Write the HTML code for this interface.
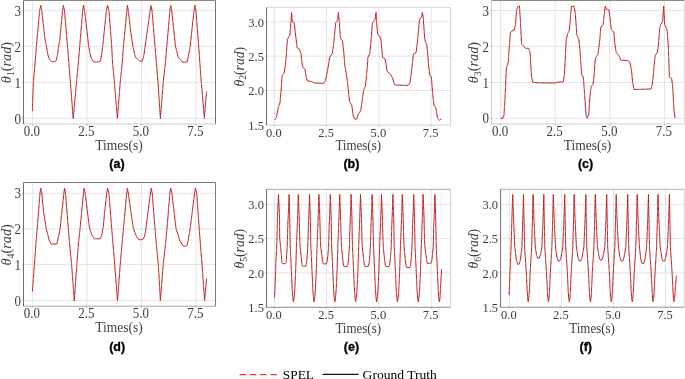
<!DOCTYPE html>
<html><head><meta charset="utf-8"><title>Joint angle trajectories</title>
<style>
html,body{margin:0;padding:0;background:#fff;}
body{width:685px;height:379px;overflow:hidden;}
svg{display:block;will-change:transform;}
.tk{font-family:"Liberation Serif",serif;fill:#3c3c3c;}
.lab{font-family:"Liberation Serif",serif;fill:#404040;}
.cap{font-family:"Liberation Sans",sans-serif;font-weight:bold;fill:#000;stroke:#000;stroke-width:0.3;}
.leg{font-family:"Liberation Serif",serif;fill:#000;}
.grid{stroke:#dddddd;stroke-width:0.8;}
.gt{fill:none;stroke:#160808;stroke-width:0.9;stroke-dasharray:0.9 1.45;stroke-dashoffset:0.9;stroke-linejoin:miter;stroke-miterlimit:6;}
.sp{fill:none;stroke:#fa1414;stroke-width:1.0;stroke-dasharray:1.45 0.9;stroke-linejoin:miter;stroke-miterlimit:6;}
</style></head><body>
<svg width="685" height="379" viewBox="0 0 685 379">
<rect width="685" height="379" fill="#fff"/>
<g id="plot-a">
<line class="grid" x1="32.4" y1="0.5" x2="32.4" y2="124.0"/>
<line class="grid" x1="86.9" y1="0.5" x2="86.9" y2="124.0"/>
<line class="grid" x1="141.4" y1="0.5" x2="141.4" y2="124.0"/>
<line class="grid" x1="195.9" y1="0.5" x2="195.9" y2="124.0"/>
<line class="grid" x1="23.5" y1="118.4" x2="215.5" y2="118.4"/>
<line class="grid" x1="23.5" y1="82.4" x2="215.5" y2="82.4"/>
<line class="grid" x1="23.5" y1="46.4" x2="215.5" y2="46.4"/>
<line class="grid" x1="23.5" y1="10.4" x2="215.5" y2="10.4"/>
<path class="gt" d="M32.4,111.1 L33.4,82.5 L35.1,62.0 L36.4,46.4 L39.6,10.5 L40.8,5.3 L41.8,10.5 L45.1,40.0 L46.4,46.4 L47.9,54.8 L49.4,59.2 L51.5,61.2 L53.5,61.8 L55.5,61.2 L56.4,59.9 L57.5,54.8 L58.7,46.4 L59.8,40.0 L62.6,10.5 L63.4,5.3 L64.5,10.5 L67.5,46.4 L68.8,62.0 L70.4,82.5 L73.2,118.4 L76.5,82.5 L78.4,62.0 L79.7,46.4 L82.7,10.5 L83.5,5.3 L84.6,10.5 L88.7,46.4 L90.5,56.0 L92.8,61.0 L95.0,62.0 L98.0,62.0 L100.5,61.0 L101.5,55.0 L102.7,46.4 L106.4,10.5 L107.6,5.3 L108.9,10.5 L111.7,46.4 L112.5,62.0 L114.4,82.5 L117.4,118.4 L120.2,82.5 L122.3,62.0 L123.4,46.4 L126.9,10.5 L127.4,5.3 L128.3,10.5 L130.5,30.0 L132.9,46.4 L135.4,57.3 L139.5,60.6 L141.6,62.0 L143.5,57.3 L145.2,46.4 L150.1,10.5 L150.9,5.5 L152.0,10.5 L155.0,46.4 L156.3,62.0 L158.0,82.5 L160.4,118.4 L163.2,82.5 L165.5,62.0 L166.8,46.4 L169.9,10.5 L170.6,5.3 L171.7,10.5 L175.5,46.4 L178.4,57.3 L182.0,62.0 L184.5,62.3 L187.0,62.0 L188.2,57.3 L190.2,46.4 L194.0,10.5 L194.8,5.3 L195.9,10.5 L198.7,46.4 L199.8,62.0 L201.3,82.5 L204.4,118.4 L205.3,105.0 L206.6,91.5"/>
<path class="sp" d="M32.4,111.1 L33.4,82.5 L35.1,62.0 L36.4,46.4 L39.6,10.5 L40.8,5.3 L41.8,10.5 L45.1,40.0 L46.4,46.4 L47.9,54.8 L49.4,59.2 L51.5,61.2 L53.5,61.8 L55.5,61.2 L56.4,59.9 L57.5,54.8 L58.7,46.4 L59.8,40.0 L62.6,10.5 L63.4,5.3 L64.5,10.5 L67.5,46.4 L68.8,62.0 L70.4,82.5 L73.2,118.4 L76.5,82.5 L78.4,62.0 L79.7,46.4 L82.7,10.5 L83.5,5.3 L84.6,10.5 L88.7,46.4 L90.5,56.0 L92.8,61.0 L95.0,62.0 L98.0,62.0 L100.5,61.0 L101.5,55.0 L102.7,46.4 L106.4,10.5 L107.6,5.3 L108.9,10.5 L111.7,46.4 L112.5,62.0 L114.4,82.5 L117.4,118.4 L120.2,82.5 L122.3,62.0 L123.4,46.4 L126.9,10.5 L127.4,5.3 L128.3,10.5 L130.5,30.0 L132.9,46.4 L135.4,57.3 L139.5,60.6 L141.6,62.0 L143.5,57.3 L145.2,46.4 L150.1,10.5 L150.9,5.5 L152.0,10.5 L155.0,46.4 L156.3,62.0 L158.0,82.5 L160.4,118.4 L163.2,82.5 L165.5,62.0 L166.8,46.4 L169.9,10.5 L170.6,5.3 L171.7,10.5 L175.5,46.4 L178.4,57.3 L182.0,62.0 L184.5,62.3 L187.0,62.0 L188.2,57.3 L190.2,46.4 L194.0,10.5 L194.8,5.3 L195.9,10.5 L198.7,46.4 L199.8,62.0 L201.3,82.5 L204.4,118.4 L205.3,105.0 L206.6,91.5"/>
<line x1="23.5" y1="0.5" x2="215.5" y2="0.5" stroke="#8a8a8a" stroke-width="1"/>
<line x1="215.5" y1="0.5" x2="215.5" y2="124.0" stroke="#707070" stroke-width="1"/>
<line x1="23.5" y1="124.0" x2="215.5" y2="124.0" stroke="#cccccc" stroke-width="1"/>
<line x1="23.5" y1="0.5" x2="23.5" y2="124.0" stroke="#6e6e6e" stroke-width="1"/>
<line x1="32.4" y1="124.0" x2="32.4" y2="125.4" stroke="#8a8a8a" stroke-width="0.6"/>
<line x1="86.9" y1="124.0" x2="86.9" y2="125.4" stroke="#8a8a8a" stroke-width="0.6"/>
<line x1="141.4" y1="124.0" x2="141.4" y2="125.4" stroke="#8a8a8a" stroke-width="0.6"/>
<line x1="195.9" y1="124.0" x2="195.9" y2="125.4" stroke="#8a8a8a" stroke-width="0.6"/>
<line x1="22.1" y1="118.4" x2="23.5" y2="118.4" stroke="#8a8a8a" stroke-width="0.6"/>
<line x1="22.1" y1="82.4" x2="23.5" y2="82.4" stroke="#8a8a8a" stroke-width="0.6"/>
<line x1="22.1" y1="46.4" x2="23.5" y2="46.4" stroke="#8a8a8a" stroke-width="0.6"/>
<line x1="22.1" y1="10.4" x2="23.5" y2="10.4" stroke="#8a8a8a" stroke-width="0.6"/>
<text class="tk" transform="translate(31.9,136.2) scale(0.915,1)" font-size="14.2" text-anchor="middle">0.0</text>
<text class="tk" transform="translate(86.4,136.2) scale(0.915,1)" font-size="14.2" text-anchor="middle">2.5</text>
<text class="tk" transform="translate(140.9,136.2) scale(0.915,1)" font-size="14.2" text-anchor="middle">5.0</text>
<text class="tk" transform="translate(195.4,136.2) scale(0.915,1)" font-size="14.2" text-anchor="middle">7.5</text>
<text class="tk" transform="translate(20.9,123.5) scale(0.915,1)" font-size="14.2" text-anchor="end">0</text>
<text class="tk" transform="translate(20.9,87.5) scale(0.915,1)" font-size="14.2" text-anchor="end">1</text>
<text class="tk" transform="translate(20.9,51.5) scale(0.915,1)" font-size="14.2" text-anchor="end">2</text>
<text class="tk" transform="translate(20.9,15.5) scale(0.915,1)" font-size="14.2" text-anchor="end">3</text>
<text class="lab" transform="translate(119.1,149.9) scale(0.966,1)" font-size="14" text-anchor="middle">Times(s)</text>
<text class="lab" transform="translate(10.9,62.6) rotate(-90) scale(1.020,1)" font-size="14" text-anchor="middle"><tspan font-style="italic">θ</tspan><tspan font-size="9.8" dy="2.8">1</tspan><tspan dy="-2.8">(</tspan><tspan font-style="italic">rad</tspan>)</text>
<text class="cap" x="117" y="168.3" font-size="12.5" text-anchor="middle">(a)</text>
</g>
<g id="plot-b">
<line class="grid" x1="274.4" y1="7.4" x2="274.4" y2="125.1"/>
<line class="grid" x1="326.6" y1="7.4" x2="326.6" y2="125.1"/>
<line class="grid" x1="378.9" y1="7.4" x2="378.9" y2="125.1"/>
<line class="grid" x1="431.1" y1="7.4" x2="431.1" y2="125.1"/>
<line class="grid" x1="266.5" y1="90.5" x2="450.6" y2="90.5"/>
<line class="grid" x1="266.5" y1="56.2" x2="450.6" y2="56.2"/>
<line class="grid" x1="266.5" y1="21.9" x2="450.6" y2="21.9"/>
<path class="gt" d="M274.6,119.8 L276.4,117.4 L278.4,106.7 L280.0,102.6 L281.1,90.4 L282.1,75.6 L284.1,73.2 L285.4,65.3 L286.2,56.2 L287.4,39.4 L289.8,35.3 L291.1,21.4 L291.5,12.4 L292.3,21.4 L294.2,22.7 L295.9,37.7 L297.2,47.9 L299.6,49.2 L301.0,54.1 L302.4,66.0 L302.9,67.5 L304.9,69.1 L306.2,77.3 L307.5,80.9 L311.1,81.4 L314.4,83.0 L323.4,83.3 L325.5,80.5 L327.1,72.4 L328.3,66.0 L329.6,57.4 L332.4,53.3 L334.0,41.0 L335.6,23.0 L337.6,20.1 L338.4,12.4 L339.3,21.4 L340.2,36.1 L341.0,39.4 L342.5,40.7 L343.8,52.5 L344.9,66.0 L346.8,76.5 L348.4,90.4 L349.6,101.8 L351.7,105.1 L353.3,115.7 L354.5,118.7 L356.6,119.3 L358.2,114.1 L360.7,110.8 L362.2,100.2 L363.8,89.5 L365.4,86.3 L366.7,73.2 L367.4,66.0 L367.9,57.4 L369.9,53.3 L371.2,37.7 L372.5,23.0 L375.0,19.7 L376.1,12.4 L376.4,20.5 L377.7,34.5 L379.7,36.1 L381.0,40.2 L382.6,57.4 L385.1,59.0 L386.3,66.0 L387.2,71.5 L390.8,74.5 L392.8,78.9 L394.6,85.0 L408.0,85.5 L410.1,82.2 L411.3,73.2 L412.1,66.0 L413.4,54.1 L416.2,52.5 L417.8,37.7 L419.5,19.7 L421.6,16.5 L422.4,12.4 L423.2,17.3 L424.4,34.5 L425.2,41.8 L426.8,44.3 L428.0,57.4 L428.7,66.0 L429.8,74.8 L431.4,77.3 L432.6,92.8 L433.9,105.1 L435.8,107.6 L437.5,118.2 L439.6,120.2 L441.6,118.7"/>
<path class="sp" d="M274.6,119.8 L276.4,117.4 L278.4,106.7 L280.0,102.6 L281.1,90.4 L282.1,75.6 L284.1,73.2 L285.4,65.3 L286.2,56.2 L287.4,39.4 L289.8,35.3 L291.1,21.4 L291.5,12.4 L292.3,21.4 L294.2,22.7 L295.9,37.7 L297.2,47.9 L299.6,49.2 L301.0,54.1 L302.4,66.0 L302.9,67.5 L304.9,69.1 L306.2,77.3 L307.5,80.9 L311.1,81.4 L314.4,83.0 L323.4,83.3 L325.5,80.5 L327.1,72.4 L328.3,66.0 L329.6,57.4 L332.4,53.3 L334.0,41.0 L335.6,23.0 L337.6,20.1 L338.4,12.4 L339.3,21.4 L340.2,36.1 L341.0,39.4 L342.5,40.7 L343.8,52.5 L344.9,66.0 L346.8,76.5 L348.4,90.4 L349.6,101.8 L351.7,105.1 L353.3,115.7 L354.5,118.7 L356.6,119.3 L358.2,114.1 L360.7,110.8 L362.2,100.2 L363.8,89.5 L365.4,86.3 L366.7,73.2 L367.4,66.0 L367.9,57.4 L369.9,53.3 L371.2,37.7 L372.5,23.0 L375.0,19.7 L376.1,12.4 L376.4,20.5 L377.7,34.5 L379.7,36.1 L381.0,40.2 L382.6,57.4 L385.1,59.0 L386.3,66.0 L387.2,71.5 L390.8,74.5 L392.8,78.9 L394.6,85.0 L408.0,85.5 L410.1,82.2 L411.3,73.2 L412.1,66.0 L413.4,54.1 L416.2,52.5 L417.8,37.7 L419.5,19.7 L421.6,16.5 L422.4,12.4 L423.2,17.3 L424.4,34.5 L425.2,41.8 L426.8,44.3 L428.0,57.4 L428.7,66.0 L429.8,74.8 L431.4,77.3 L432.6,92.8 L433.9,105.1 L435.8,107.6 L437.5,118.2 L439.6,120.2 L441.6,118.7"/>
<line x1="266.5" y1="7.4" x2="450.6" y2="7.4" stroke="#d8d8d8" stroke-width="1"/>
<line x1="450.6" y1="7.4" x2="450.6" y2="125.1" stroke="#d0d0d0" stroke-width="1"/>
<line x1="266.5" y1="125.1" x2="450.6" y2="125.1" stroke="#cfcfcf" stroke-width="1"/>
<line x1="266.5" y1="7.4" x2="266.5" y2="125.1" stroke="#6e6e6e" stroke-width="1"/>
<line x1="274.4" y1="125.1" x2="274.4" y2="126.5" stroke="#8a8a8a" stroke-width="0.6"/>
<line x1="326.6" y1="125.1" x2="326.6" y2="126.5" stroke="#8a8a8a" stroke-width="0.6"/>
<line x1="378.9" y1="125.1" x2="378.9" y2="126.5" stroke="#8a8a8a" stroke-width="0.6"/>
<line x1="431.1" y1="125.1" x2="431.1" y2="126.5" stroke="#8a8a8a" stroke-width="0.6"/>
<line x1="265.1" y1="124.8" x2="266.5" y2="124.8" stroke="#8a8a8a" stroke-width="0.6"/>
<line x1="265.1" y1="90.5" x2="266.5" y2="90.5" stroke="#8a8a8a" stroke-width="0.6"/>
<line x1="265.1" y1="56.2" x2="266.5" y2="56.2" stroke="#8a8a8a" stroke-width="0.6"/>
<line x1="265.1" y1="21.9" x2="266.5" y2="21.9" stroke="#8a8a8a" stroke-width="0.6"/>
<text class="tk" transform="translate(273.9,136.8) scale(0.924,1)" font-size="13.5" text-anchor="middle">0.0</text>
<text class="tk" transform="translate(326.1,136.8) scale(0.924,1)" font-size="13.5" text-anchor="middle">2.5</text>
<text class="tk" transform="translate(378.4,136.8) scale(0.924,1)" font-size="13.5" text-anchor="middle">5.0</text>
<text class="tk" transform="translate(430.6,136.8) scale(0.924,1)" font-size="13.5" text-anchor="middle">7.5</text>
<text class="tk" transform="translate(263.9,129.7) scale(0.924,1)" font-size="13.5" text-anchor="end">1.5</text>
<text class="tk" transform="translate(263.9,95.3) scale(0.924,1)" font-size="13.5" text-anchor="end">2.0</text>
<text class="tk" transform="translate(263.9,61.1) scale(0.924,1)" font-size="13.5" text-anchor="end">2.5</text>
<text class="tk" transform="translate(263.9,26.8) scale(0.924,1)" font-size="13.5" text-anchor="end">3.0</text>
<text class="lab" transform="translate(358.2,149.9) scale(0.927,1)" font-size="14" text-anchor="middle">Times(s)</text>
<text class="lab" transform="translate(243.5,66.7) rotate(-90) scale(0.979,1)" font-size="14" text-anchor="middle"><tspan font-style="italic">θ</tspan><tspan font-size="9.8" dy="2.8">2</tspan><tspan dy="-2.8">(</tspan><tspan font-style="italic">rad</tspan>)</text>
<text class="cap" x="351.4" y="168.3" font-size="12.5" text-anchor="middle">(b)</text>
</g>
<g id="plot-c">
<line class="grid" x1="500.6" y1="0.5" x2="500.6" y2="124.0"/>
<line class="grid" x1="555.2" y1="0.5" x2="555.2" y2="124.0"/>
<line class="grid" x1="609.8" y1="0.5" x2="609.8" y2="124.0"/>
<line class="grid" x1="664.4" y1="0.5" x2="664.4" y2="124.0"/>
<line class="grid" x1="491.6" y1="118.3" x2="684.3" y2="118.3"/>
<line class="grid" x1="491.6" y1="82.5" x2="684.3" y2="82.5"/>
<line class="grid" x1="491.6" y1="46.4" x2="684.3" y2="46.4"/>
<line class="grid" x1="491.6" y1="10.5" x2="684.3" y2="10.5"/>
<path class="gt" d="M500.6,118.3 L502.7,118.3 L504.0,115.2 L505.2,94.7 L506.3,68.5 L508.3,62.0 L509.3,46.3 L510.4,32.7 L511.7,31.1 L513.9,30.3 L515.5,24.5 L516.6,9.8 L518.0,6.5 L519.4,5.9 L520.4,20.5 L521.6,44.2 L523.2,45.8 L525.3,48.3 L528.6,48.3 L530.1,52.4 L530.6,62.0 L531.4,75.1 L532.5,82.1 L537.1,82.8 L555.1,83.0 L558.4,82.0 L563.3,82.0 L564.4,75.1 L565.1,62.0 L566.2,39.3 L567.7,33.6 L569.3,30.3 L570.7,14.7 L571.5,6.2 L573.9,6.2 L575.2,12.3 L576.9,35.2 L578.8,39.3 L580.0,50.7 L580.8,62.0 L581.6,74.3 L583.4,77.5 L584.6,94.7 L586.2,116.0 L587.3,118.1 L588.7,114.4 L589.8,98.0 L591.1,86.5 L593.1,84.1 L594.4,71.8 L595.1,62.0 L595.8,57.3 L597.9,54.8 L599.5,42.6 L600.9,27.0 L603.2,24.5 L604.5,11.5 L605.3,6.2 L606.1,9.0 L608.9,9.8 L610.2,19.6 L611.3,29.5 L613.8,31.9 L615.1,45.8 L616.2,52.4 L618.9,55.6 L620.8,60.2 L627.4,60.6 L629.8,62.0 L631.5,70.2 L632.6,81.6 L633.9,89.5 L651.1,89.0 L652.4,83.3 L653.6,71.8 L654.4,62.0 L655.2,55.6 L657.3,52.4 L658.5,44.2 L659.8,27.0 L660.9,24.5 L662.6,21.3 L663.7,6.2 L664.7,24.5 L667.0,29.5 L668.3,45.8 L668.9,62.0 L669.4,76.7 L671.6,78.4 L672.7,86.5 L674.0,111.1 L675.2,118.1"/>
<path class="sp" d="M500.6,118.3 L502.7,118.3 L504.0,115.2 L505.2,94.7 L506.3,68.5 L508.3,62.0 L509.3,46.3 L510.4,32.7 L511.7,31.1 L513.9,30.3 L515.5,24.5 L516.6,9.8 L518.0,6.5 L519.4,5.9 L520.4,20.5 L521.6,44.2 L523.2,45.8 L525.3,48.3 L528.6,48.3 L530.1,52.4 L530.6,62.0 L531.4,75.1 L532.5,82.1 L537.1,82.8 L555.1,83.0 L558.4,82.0 L563.3,82.0 L564.4,75.1 L565.1,62.0 L566.2,39.3 L567.7,33.6 L569.3,30.3 L570.7,14.7 L571.5,6.2 L573.9,6.2 L575.2,12.3 L576.9,35.2 L578.8,39.3 L580.0,50.7 L580.8,62.0 L581.6,74.3 L583.4,77.5 L584.6,94.7 L586.2,116.0 L587.3,118.1 L588.7,114.4 L589.8,98.0 L591.1,86.5 L593.1,84.1 L594.4,71.8 L595.1,62.0 L595.8,57.3 L597.9,54.8 L599.5,42.6 L600.9,27.0 L603.2,24.5 L604.5,11.5 L605.3,6.2 L606.1,9.0 L608.9,9.8 L610.2,19.6 L611.3,29.5 L613.8,31.9 L615.1,45.8 L616.2,52.4 L618.9,55.6 L620.8,60.2 L627.4,60.6 L629.8,62.0 L631.5,70.2 L632.6,81.6 L633.9,89.5 L651.1,89.0 L652.4,83.3 L653.6,71.8 L654.4,62.0 L655.2,55.6 L657.3,52.4 L658.5,44.2 L659.8,27.0 L660.9,24.5 L662.6,21.3 L663.7,6.2 L664.7,24.5 L667.0,29.5 L668.3,45.8 L668.9,62.0 L669.4,76.7 L671.6,78.4 L672.7,86.5 L674.0,111.1 L675.2,118.1"/>
<line x1="491.6" y1="0.5" x2="684.3" y2="0.5" stroke="#8a8a8a" stroke-width="1"/>
<line x1="684.3" y1="0.5" x2="684.3" y2="124.0" stroke="#d8d8d8" stroke-width="1"/>
<line x1="491.6" y1="124.0" x2="684.3" y2="124.0" stroke="#cfcfcf" stroke-width="1"/>
<line x1="491.6" y1="0.5" x2="491.6" y2="124.0" stroke="#cfcfcf" stroke-width="1"/>
<line x1="500.6" y1="124.0" x2="500.6" y2="125.4" stroke="#8a8a8a" stroke-width="0.6"/>
<line x1="555.2" y1="124.0" x2="555.2" y2="125.4" stroke="#8a8a8a" stroke-width="0.6"/>
<line x1="609.8" y1="124.0" x2="609.8" y2="125.4" stroke="#8a8a8a" stroke-width="0.6"/>
<line x1="664.4" y1="124.0" x2="664.4" y2="125.4" stroke="#8a8a8a" stroke-width="0.6"/>
<line x1="490.2" y1="118.3" x2="491.6" y2="118.3" stroke="#8a8a8a" stroke-width="0.6"/>
<line x1="490.2" y1="82.5" x2="491.6" y2="82.5" stroke="#8a8a8a" stroke-width="0.6"/>
<line x1="490.2" y1="46.4" x2="491.6" y2="46.4" stroke="#8a8a8a" stroke-width="0.6"/>
<line x1="490.2" y1="10.5" x2="491.6" y2="10.5" stroke="#8a8a8a" stroke-width="0.6"/>
<text class="tk" transform="translate(500.1,136.3) scale(0.915,1)" font-size="14.2" text-anchor="middle">0.0</text>
<text class="tk" transform="translate(554.7,136.3) scale(0.915,1)" font-size="14.2" text-anchor="middle">2.5</text>
<text class="tk" transform="translate(609.3,136.3) scale(0.915,1)" font-size="14.2" text-anchor="middle">5.0</text>
<text class="tk" transform="translate(663.9,136.3) scale(0.915,1)" font-size="14.2" text-anchor="middle">7.5</text>
<text class="tk" transform="translate(489.0,123.4) scale(0.915,1)" font-size="14.2" text-anchor="end">0</text>
<text class="tk" transform="translate(489.0,87.6) scale(0.915,1)" font-size="14.2" text-anchor="end">1</text>
<text class="tk" transform="translate(489.0,51.5) scale(0.915,1)" font-size="14.2" text-anchor="end">2</text>
<text class="tk" transform="translate(489.0,15.6) scale(0.915,1)" font-size="14.2" text-anchor="end">3</text>
<text class="lab" transform="translate(587.6,149.9) scale(0.966,1)" font-size="14" text-anchor="middle">Times(s)</text>
<text class="lab" transform="translate(478.1,62.6) rotate(-90) scale(1.020,1)" font-size="14" text-anchor="middle"><tspan font-style="italic">θ</tspan><tspan font-size="9.8" dy="2.8">3</tspan><tspan dy="-2.8">(</tspan><tspan font-style="italic">rad</tspan>)</text>
<text class="cap" x="585.6" y="168.3" font-size="12.5" text-anchor="middle">(c)</text>
</g>
<g id="plot-d">
<line class="grid" x1="32.4" y1="182.5" x2="32.4" y2="306.2"/>
<line class="grid" x1="86.9" y1="182.5" x2="86.9" y2="306.2"/>
<line class="grid" x1="141.4" y1="182.5" x2="141.4" y2="306.2"/>
<line class="grid" x1="195.9" y1="182.5" x2="195.9" y2="306.2"/>
<line class="grid" x1="23.5" y1="300.4" x2="215.5" y2="300.4"/>
<line class="grid" x1="23.5" y1="264.6" x2="215.5" y2="264.6"/>
<line class="grid" x1="23.5" y1="228.9" x2="215.5" y2="228.9"/>
<line class="grid" x1="23.5" y1="193.2" x2="215.5" y2="193.2"/>
<path class="gt" d="M32.4,291.5 L34.4,264.5 L35.9,244.0 L37.2,228.3 L40.0,193.1 L40.8,188.2 L41.8,193.1 L43.7,213.0 L46.2,228.3 L49.1,240.0 L51.1,244.0 L56.8,244.0 L59.0,235.0 L60.1,228.3 L63.9,193.1 L64.5,188.2 L65.5,193.1 L68.3,228.3 L69.6,244.0 L71.6,264.5 L74.3,300.7 L76.8,264.5 L78.4,244.0 L80.1,228.3 L83.5,193.1 L84.2,188.2 L85.1,193.1 L87.6,213.0 L89.6,228.3 L92.0,235.0 L94.5,238.8 L100.2,238.8 L101.8,235.0 L103.0,228.3 L106.7,193.1 L107.6,188.2 L108.9,193.1 L111.7,228.3 L113.0,244.0 L114.7,264.5 L117.5,300.7 L120.2,264.5 L122.0,244.0 L123.5,228.3 L126.7,193.1 L127.4,188.2 L128.3,193.1 L131.0,213.0 L133.4,228.3 L136.2,236.0 L138.6,239.5 L140.3,239.8 L142.7,239.5 L144.7,236.0 L146.0,228.3 L150.4,193.1 L151.2,188.2 L152.2,193.1 L155.0,228.3 L156.3,244.0 L158.3,264.5 L160.4,300.7 L163.2,264.5 L165.5,244.0 L167.0,228.3 L169.9,193.1 L170.7,188.2 L171.9,193.1 L174.2,213.0 L176.0,228.3 L179.6,240.0 L182.8,245.5 L185.0,246.5 L187.0,245.5 L188.2,240.0 L190.2,228.3 L194.6,193.1 L195.4,188.2 L196.7,193.1 L199.2,228.3 L200.4,244.0 L202.0,264.5 L204.6,300.7 L205.5,290.0 L206.6,278.4"/>
<path class="sp" d="M32.4,291.5 L34.4,264.5 L35.9,244.0 L37.2,228.3 L40.0,193.1 L40.8,188.2 L41.8,193.1 L43.7,213.0 L46.2,228.3 L49.1,240.0 L51.1,244.0 L56.8,244.0 L59.0,235.0 L60.1,228.3 L63.9,193.1 L64.5,188.2 L65.5,193.1 L68.3,228.3 L69.6,244.0 L71.6,264.5 L74.3,300.7 L76.8,264.5 L78.4,244.0 L80.1,228.3 L83.5,193.1 L84.2,188.2 L85.1,193.1 L87.6,213.0 L89.6,228.3 L92.0,235.0 L94.5,238.8 L100.2,238.8 L101.8,235.0 L103.0,228.3 L106.7,193.1 L107.6,188.2 L108.9,193.1 L111.7,228.3 L113.0,244.0 L114.7,264.5 L117.5,300.7 L120.2,264.5 L122.0,244.0 L123.5,228.3 L126.7,193.1 L127.4,188.2 L128.3,193.1 L131.0,213.0 L133.4,228.3 L136.2,236.0 L138.6,239.5 L140.3,239.8 L142.7,239.5 L144.7,236.0 L146.0,228.3 L150.4,193.1 L151.2,188.2 L152.2,193.1 L155.0,228.3 L156.3,244.0 L158.3,264.5 L160.4,300.7 L163.2,264.5 L165.5,244.0 L167.0,228.3 L169.9,193.1 L170.7,188.2 L171.9,193.1 L174.2,213.0 L176.0,228.3 L179.6,240.0 L182.8,245.5 L185.0,246.5 L187.0,245.5 L188.2,240.0 L190.2,228.3 L194.6,193.1 L195.4,188.2 L196.7,193.1 L199.2,228.3 L200.4,244.0 L202.0,264.5 L204.6,300.7 L205.5,290.0 L206.6,278.4"/>
<line x1="23.5" y1="182.5" x2="215.5" y2="182.5" stroke="#777777" stroke-width="1"/>
<line x1="215.5" y1="182.5" x2="215.5" y2="306.2" stroke="#7d7d7d" stroke-width="1"/>
<line x1="23.5" y1="306.2" x2="215.5" y2="306.2" stroke="#a8a8a8" stroke-width="1"/>
<line x1="23.5" y1="182.5" x2="23.5" y2="306.2" stroke="#6e6e6e" stroke-width="1"/>
<line x1="32.4" y1="306.2" x2="32.4" y2="307.6" stroke="#8a8a8a" stroke-width="0.6"/>
<line x1="86.9" y1="306.2" x2="86.9" y2="307.6" stroke="#8a8a8a" stroke-width="0.6"/>
<line x1="141.4" y1="306.2" x2="141.4" y2="307.6" stroke="#8a8a8a" stroke-width="0.6"/>
<line x1="195.9" y1="306.2" x2="195.9" y2="307.6" stroke="#8a8a8a" stroke-width="0.6"/>
<line x1="22.1" y1="300.4" x2="23.5" y2="300.4" stroke="#8a8a8a" stroke-width="0.6"/>
<line x1="22.1" y1="264.6" x2="23.5" y2="264.6" stroke="#8a8a8a" stroke-width="0.6"/>
<line x1="22.1" y1="228.9" x2="23.5" y2="228.9" stroke="#8a8a8a" stroke-width="0.6"/>
<line x1="22.1" y1="193.2" x2="23.5" y2="193.2" stroke="#8a8a8a" stroke-width="0.6"/>
<text class="tk" transform="translate(31.9,318.0) scale(0.915,1)" font-size="14.2" text-anchor="middle">0.0</text>
<text class="tk" transform="translate(86.4,318.0) scale(0.915,1)" font-size="14.2" text-anchor="middle">2.5</text>
<text class="tk" transform="translate(140.9,318.0) scale(0.915,1)" font-size="14.2" text-anchor="middle">5.0</text>
<text class="tk" transform="translate(195.4,318.0) scale(0.915,1)" font-size="14.2" text-anchor="middle">7.5</text>
<text class="tk" transform="translate(20.9,305.5) scale(0.915,1)" font-size="14.2" text-anchor="end">0</text>
<text class="tk" transform="translate(20.9,269.7) scale(0.915,1)" font-size="14.2" text-anchor="end">1</text>
<text class="tk" transform="translate(20.9,234.0) scale(0.915,1)" font-size="14.2" text-anchor="end">2</text>
<text class="tk" transform="translate(20.9,198.3) scale(0.915,1)" font-size="14.2" text-anchor="end">3</text>
<text class="lab" transform="translate(119.1,331.9) scale(0.966,1)" font-size="14" text-anchor="middle">Times(s)</text>
<text class="lab" transform="translate(11.0,244.8) rotate(-90) scale(1.020,1)" font-size="14" text-anchor="middle"><tspan font-style="italic">θ</tspan><tspan font-size="9.8" dy="2.8">4</tspan><tspan dy="-2.8">(</tspan><tspan font-style="italic">rad</tspan>)</text>
<text class="cap" x="117.2" y="350.6" font-size="12.5" text-anchor="middle">(d)</text>
</g>
<g id="plot-e">
<line class="grid" x1="274.4" y1="189.3" x2="274.4" y2="307.3"/>
<line class="grid" x1="326.6" y1="189.3" x2="326.6" y2="307.3"/>
<line class="grid" x1="378.9" y1="189.3" x2="378.9" y2="307.3"/>
<line class="grid" x1="431.1" y1="189.3" x2="431.1" y2="307.3"/>
<line class="grid" x1="266.5" y1="272.8" x2="450.6" y2="272.8"/>
<line class="grid" x1="266.5" y1="238.6" x2="450.6" y2="238.6"/>
<line class="grid" x1="266.5" y1="204.4" x2="450.6" y2="204.4"/>
<path class="gt" d="M274.6,297.7 L275.3,280.0 L275.9,261.7 L276.7,247.0 L277.5,217.0 L278.5,194.5 L279.5,217.0 L279.7,238.0 L280.6,247.0 L282.0,262.5 L283.0,263.7 L285.2,263.7 L286.2,262.5 L287.2,247.0 L287.8,225.0 L288.5,210.0 L289.1,194.5 L289.7,217.0 L290.2,245.0 L291.5,272.9 L292.3,291.0 L292.9,299.5 L293.4,301.8 L293.9,299.5 L294.7,291.0 L295.6,272.9 L296.5,245.0 L297.6,217.0 L298.3,194.5 L299.2,217.0 L299.7,238.0 L300.1,247.0 L301.3,258.5 L302.1,264.8 L302.8,266.3 L305.5,266.3 L306.2,264.8 L307.0,258.5 L307.8,247.0 L308.4,225.0 L309.0,212.0 L309.5,194.5 L310.3,217.0 L310.8,245.0 L312.1,272.9 L312.9,291.0 L313.6,299.5 L314.0,301.8 L314.5,299.5 L315.3,291.0 L316.2,272.9 L317.1,245.0 L318.2,217.0 L318.9,194.5 L319.8,217.0 L320.3,238.0 L320.7,247.0 L321.9,256.1 L322.7,262.4 L323.4,263.9 L326.3,263.9 L327.0,262.4 L327.8,256.1 L328.6,247.0 L329.2,225.0 L329.8,212.0 L330.3,194.5 L331.1,217.0 L331.6,245.0 L332.9,272.9 L333.7,291.0 L334.4,299.5 L334.8,301.8 L335.3,299.5 L336.1,291.0 L337.0,272.9 L337.9,245.0 L339.0,217.0 L339.7,194.5 L340.6,217.0 L341.1,238.0 L341.5,247.0 L342.7,258.8 L343.5,265.1 L344.2,266.6 L347.1,266.6 L347.8,265.1 L348.6,258.8 L349.4,247.0 L350.0,225.0 L350.6,212.0 L351.1,194.5 L351.9,217.0 L352.4,245.0 L353.7,272.9 L354.5,291.0 L355.2,299.5 L355.6,301.8 L356.1,299.5 L356.9,291.0 L357.8,272.9 L358.7,245.0 L359.8,217.0 L360.5,194.5 L361.4,217.0 L361.9,238.0 L362.3,247.0 L363.5,258.6 L364.3,264.9 L365.0,266.4 L368.1,266.4 L368.8,264.9 L369.6,258.6 L370.4,247.0 L371.0,225.0 L371.6,212.0 L372.1,194.5 L372.9,217.0 L373.4,245.0 L374.7,272.9 L375.5,291.0 L376.2,299.5 L376.6,301.8 L377.1,299.5 L377.9,291.0 L378.8,272.9 L379.7,245.0 L380.8,217.0 L381.5,194.5 L382.4,217.0 L382.9,238.0 L383.3,247.0 L384.5,258.8 L385.3,265.1 L386.0,266.6 L388.9,266.6 L389.6,265.1 L390.4,258.8 L391.2,247.0 L391.8,225.0 L392.4,212.0 L392.9,194.5 L393.7,217.0 L394.2,245.0 L395.5,272.9 L396.3,291.0 L396.9,299.5 L397.4,301.8 L397.9,299.5 L398.7,291.0 L399.6,272.9 L400.5,245.0 L401.6,217.0 L402.3,194.5 L403.2,217.0 L403.7,238.0 L404.1,247.0 L405.3,259.7 L406.1,266.0 L406.8,267.5 L409.7,267.5 L410.4,266.0 L411.2,259.7 L412.0,247.0 L412.6,225.0 L413.2,212.0 L413.7,194.5 L414.5,217.0 L415.0,245.0 L416.3,272.9 L417.1,291.0 L417.8,299.5 L418.2,301.8 L418.7,299.5 L419.5,291.0 L420.4,272.9 L421.3,245.0 L422.4,217.0 L423.1,194.5 L424.0,217.0 L424.5,238.0 L424.9,247.0 L426.1,255.6 L426.9,261.9 L427.6,263.4 L430.9,263.4 L431.6,261.9 L432.4,255.6 L433.2,247.0 L433.8,225.0 L434.4,212.0 L434.9,194.5 L435.7,217.0 L436.2,245.0 L437.5,272.9 L438.3,291.0 L438.9,299.5 L439.4,301.8 L440.0,298.0 L440.9,280.0 L441.6,269.1"/>
<path class="sp" d="M274.6,297.7 L275.3,280.0 L275.9,261.7 L276.7,247.0 L277.5,217.0 L278.5,194.5 L279.5,217.0 L279.7,238.0 L280.6,247.0 L282.0,262.5 L283.0,263.7 L285.2,263.7 L286.2,262.5 L287.2,247.0 L287.8,225.0 L288.5,210.0 L289.1,194.5 L289.7,217.0 L290.2,245.0 L291.5,272.9 L292.3,291.0 L292.9,299.5 L293.4,301.8 L293.9,299.5 L294.7,291.0 L295.6,272.9 L296.5,245.0 L297.6,217.0 L298.3,194.5 L299.2,217.0 L299.7,238.0 L300.1,247.0 L301.3,258.5 L302.1,264.8 L302.8,266.3 L305.5,266.3 L306.2,264.8 L307.0,258.5 L307.8,247.0 L308.4,225.0 L309.0,212.0 L309.5,194.5 L310.3,217.0 L310.8,245.0 L312.1,272.9 L312.9,291.0 L313.6,299.5 L314.0,301.8 L314.5,299.5 L315.3,291.0 L316.2,272.9 L317.1,245.0 L318.2,217.0 L318.9,194.5 L319.8,217.0 L320.3,238.0 L320.7,247.0 L321.9,256.1 L322.7,262.4 L323.4,263.9 L326.3,263.9 L327.0,262.4 L327.8,256.1 L328.6,247.0 L329.2,225.0 L329.8,212.0 L330.3,194.5 L331.1,217.0 L331.6,245.0 L332.9,272.9 L333.7,291.0 L334.4,299.5 L334.8,301.8 L335.3,299.5 L336.1,291.0 L337.0,272.9 L337.9,245.0 L339.0,217.0 L339.7,194.5 L340.6,217.0 L341.1,238.0 L341.5,247.0 L342.7,258.8 L343.5,265.1 L344.2,266.6 L347.1,266.6 L347.8,265.1 L348.6,258.8 L349.4,247.0 L350.0,225.0 L350.6,212.0 L351.1,194.5 L351.9,217.0 L352.4,245.0 L353.7,272.9 L354.5,291.0 L355.2,299.5 L355.6,301.8 L356.1,299.5 L356.9,291.0 L357.8,272.9 L358.7,245.0 L359.8,217.0 L360.5,194.5 L361.4,217.0 L361.9,238.0 L362.3,247.0 L363.5,258.6 L364.3,264.9 L365.0,266.4 L368.1,266.4 L368.8,264.9 L369.6,258.6 L370.4,247.0 L371.0,225.0 L371.6,212.0 L372.1,194.5 L372.9,217.0 L373.4,245.0 L374.7,272.9 L375.5,291.0 L376.2,299.5 L376.6,301.8 L377.1,299.5 L377.9,291.0 L378.8,272.9 L379.7,245.0 L380.8,217.0 L381.5,194.5 L382.4,217.0 L382.9,238.0 L383.3,247.0 L384.5,258.8 L385.3,265.1 L386.0,266.6 L388.9,266.6 L389.6,265.1 L390.4,258.8 L391.2,247.0 L391.8,225.0 L392.4,212.0 L392.9,194.5 L393.7,217.0 L394.2,245.0 L395.5,272.9 L396.3,291.0 L396.9,299.5 L397.4,301.8 L397.9,299.5 L398.7,291.0 L399.6,272.9 L400.5,245.0 L401.6,217.0 L402.3,194.5 L403.2,217.0 L403.7,238.0 L404.1,247.0 L405.3,259.7 L406.1,266.0 L406.8,267.5 L409.7,267.5 L410.4,266.0 L411.2,259.7 L412.0,247.0 L412.6,225.0 L413.2,212.0 L413.7,194.5 L414.5,217.0 L415.0,245.0 L416.3,272.9 L417.1,291.0 L417.8,299.5 L418.2,301.8 L418.7,299.5 L419.5,291.0 L420.4,272.9 L421.3,245.0 L422.4,217.0 L423.1,194.5 L424.0,217.0 L424.5,238.0 L424.9,247.0 L426.1,255.6 L426.9,261.9 L427.6,263.4 L430.9,263.4 L431.6,261.9 L432.4,255.6 L433.2,247.0 L433.8,225.0 L434.4,212.0 L434.9,194.5 L435.7,217.0 L436.2,245.0 L437.5,272.9 L438.3,291.0 L438.9,299.5 L439.4,301.8 L440.0,298.0 L440.9,280.0 L441.6,269.1"/>
<line x1="266.5" y1="189.3" x2="450.6" y2="189.3" stroke="#a8a8a8" stroke-width="1"/>
<line x1="450.6" y1="189.3" x2="450.6" y2="307.3" stroke="#d0d0d0" stroke-width="1"/>
<line x1="266.5" y1="307.3" x2="450.6" y2="307.3" stroke="#8c8c8c" stroke-width="1"/>
<line x1="266.5" y1="189.3" x2="266.5" y2="307.3" stroke="#6e6e6e" stroke-width="1"/>
<line x1="274.4" y1="307.3" x2="274.4" y2="308.7" stroke="#8a8a8a" stroke-width="0.6"/>
<line x1="326.6" y1="307.3" x2="326.6" y2="308.7" stroke="#8a8a8a" stroke-width="0.6"/>
<line x1="378.9" y1="307.3" x2="378.9" y2="308.7" stroke="#8a8a8a" stroke-width="0.6"/>
<line x1="431.1" y1="307.3" x2="431.1" y2="308.7" stroke="#8a8a8a" stroke-width="0.6"/>
<line x1="265.1" y1="307.0" x2="266.5" y2="307.0" stroke="#8a8a8a" stroke-width="0.6"/>
<line x1="265.1" y1="272.8" x2="266.5" y2="272.8" stroke="#8a8a8a" stroke-width="0.6"/>
<line x1="265.1" y1="238.6" x2="266.5" y2="238.6" stroke="#8a8a8a" stroke-width="0.6"/>
<line x1="265.1" y1="204.4" x2="266.5" y2="204.4" stroke="#8a8a8a" stroke-width="0.6"/>
<text class="tk" transform="translate(273.9,319.1) scale(0.924,1)" font-size="13.5" text-anchor="middle">0.0</text>
<text class="tk" transform="translate(326.1,319.1) scale(0.924,1)" font-size="13.5" text-anchor="middle">2.5</text>
<text class="tk" transform="translate(378.4,319.1) scale(0.924,1)" font-size="13.5" text-anchor="middle">5.0</text>
<text class="tk" transform="translate(430.6,319.1) scale(0.924,1)" font-size="13.5" text-anchor="middle">7.5</text>
<text class="tk" transform="translate(263.9,311.9) scale(0.924,1)" font-size="13.5" text-anchor="end">1.5</text>
<text class="tk" transform="translate(263.9,277.7) scale(0.924,1)" font-size="13.5" text-anchor="end">2.0</text>
<text class="tk" transform="translate(263.9,243.4) scale(0.924,1)" font-size="13.5" text-anchor="end">2.5</text>
<text class="tk" transform="translate(263.9,209.2) scale(0.924,1)" font-size="13.5" text-anchor="end">3.0</text>
<text class="lab" transform="translate(358.2,332.7) scale(0.927,1)" font-size="14" text-anchor="middle">Times(s)</text>
<text class="lab" transform="translate(243.9,248.7) rotate(-90) scale(0.979,1)" font-size="14" text-anchor="middle"><tspan font-style="italic">θ</tspan><tspan font-size="9.8" dy="2.8">5</tspan><tspan dy="-2.8">(</tspan><tspan font-style="italic">rad</tspan>)</text>
<text class="cap" x="351.5" y="351.3" font-size="12.5" text-anchor="middle">(e)</text>
</g>
<g id="plot-f">
<line class="grid" x1="509.4" y1="189.3" x2="509.4" y2="307.2"/>
<line class="grid" x1="561.4" y1="189.3" x2="561.4" y2="307.2"/>
<line class="grid" x1="613.5" y1="189.3" x2="613.5" y2="307.2"/>
<line class="grid" x1="665.5" y1="189.3" x2="665.5" y2="307.2"/>
<line class="grid" x1="500.6" y1="272.8" x2="684.3" y2="272.8"/>
<line class="grid" x1="500.6" y1="238.6" x2="684.3" y2="238.6"/>
<line class="grid" x1="500.6" y1="204.4" x2="684.3" y2="204.4"/>
<path class="gt" d="M509.2,295.3 L509.9,272.9 L511.1,247.0 L512.0,215.0 L512.7,194.5 L513.6,220.0 L514.8,247.0 L516.4,260.0 L517.6,264.2 L519.2,264.2 L520.4,260.0 L521.9,247.0 L522.8,220.0 L523.5,194.5 L524.6,247.0 L526.3,272.9 L527.2,291.0 L527.8,299.5 L528.2,301.8 L528.7,299.5 L529.4,291.0 L530.1,272.9 L531.7,247.0 L532.5,218.0 L533.1,194.5 L533.9,218.0 L535.3,247.0 L536.5,254.6 L537.6,258.1 L539.4,258.1 L540.5,254.6 L541.9,247.0 L543.1,218.0 L543.8,194.5 L544.8,247.0 L546.5,272.9 L547.4,291.0 L547.9,299.5 L548.4,301.8 L548.9,299.5 L549.5,291.0 L550.3,272.9 L551.9,247.0 L552.7,218.0 L553.3,194.5 L554.1,218.0 L555.5,247.0 L557.0,257.4 L558.1,260.9 L559.9,260.9 L561.0,257.4 L562.8,247.0 L564.0,218.0 L564.7,194.5 L565.7,247.0 L567.4,272.9 L568.2,291.0 L568.8,299.5 L569.3,301.8 L569.8,299.5 L570.4,291.0 L571.2,272.9 L572.8,247.0 L573.6,218.0 L574.2,194.5 L575.0,218.0 L576.4,247.0 L578.0,257.4 L579.1,260.9 L580.9,260.9 L582.0,257.4 L583.9,247.0 L585.1,218.0 L585.8,194.5 L586.8,247.0 L588.5,272.9 L589.4,291.0 L589.9,299.5 L590.4,301.8 L590.9,299.5 L591.5,291.0 L592.3,272.9 L593.9,247.0 L594.7,218.0 L595.3,194.5 L596.1,218.0 L597.5,247.0 L599.0,256.6 L600.1,260.1 L601.9,260.1 L603.0,256.6 L604.8,247.0 L606.0,218.0 L606.7,194.5 L607.7,247.0 L609.4,272.9 L610.2,291.0 L610.8,299.5 L611.3,301.8 L611.8,299.5 L612.4,291.0 L613.2,272.9 L614.8,247.0 L615.6,218.0 L616.2,194.5 L617.0,218.0 L618.4,247.0 L620.0,257.4 L621.1,260.9 L622.9,260.9 L624.0,257.4 L625.8,247.0 L627.0,218.0 L627.7,194.5 L628.7,247.0 L630.4,272.9 L631.2,291.0 L631.8,299.5 L632.3,301.8 L632.8,299.5 L633.4,291.0 L634.2,272.9 L635.8,247.0 L636.6,218.0 L637.2,194.5 L638.0,218.0 L639.4,247.0 L640.9,259.9 L642.0,263.4 L643.8,263.4 L644.9,259.9 L646.6,247.0 L647.8,218.0 L648.5,194.5 L649.5,247.0 L651.2,272.9 L652.1,291.0 L652.6,299.5 L653.1,301.8 L653.6,299.5 L654.2,291.0 L655.0,272.9 L656.6,247.0 L657.4,218.0 L658.0,194.5 L658.8,218.0 L660.2,247.0 L661.7,257.4 L662.8,260.9 L664.6,260.9 L665.7,257.4 L667.5,247.0 L668.7,218.0 L669.4,194.5 L670.4,247.0 L672.1,272.9 L673.0,291.0 L673.5,299.5 L674.0,301.8 L674.6,298.0 L675.6,285.0 L676.5,275.6"/>
<path class="sp" d="M509.2,295.3 L509.9,272.9 L511.1,247.0 L512.0,215.0 L512.7,194.5 L513.6,220.0 L514.8,247.0 L516.4,260.0 L517.6,264.2 L519.2,264.2 L520.4,260.0 L521.9,247.0 L522.8,220.0 L523.5,194.5 L524.6,247.0 L526.3,272.9 L527.2,291.0 L527.8,299.5 L528.2,301.8 L528.7,299.5 L529.4,291.0 L530.1,272.9 L531.7,247.0 L532.5,218.0 L533.1,194.5 L533.9,218.0 L535.3,247.0 L536.5,254.6 L537.6,258.1 L539.4,258.1 L540.5,254.6 L541.9,247.0 L543.1,218.0 L543.8,194.5 L544.8,247.0 L546.5,272.9 L547.4,291.0 L547.9,299.5 L548.4,301.8 L548.9,299.5 L549.5,291.0 L550.3,272.9 L551.9,247.0 L552.7,218.0 L553.3,194.5 L554.1,218.0 L555.5,247.0 L557.0,257.4 L558.1,260.9 L559.9,260.9 L561.0,257.4 L562.8,247.0 L564.0,218.0 L564.7,194.5 L565.7,247.0 L567.4,272.9 L568.2,291.0 L568.8,299.5 L569.3,301.8 L569.8,299.5 L570.4,291.0 L571.2,272.9 L572.8,247.0 L573.6,218.0 L574.2,194.5 L575.0,218.0 L576.4,247.0 L578.0,257.4 L579.1,260.9 L580.9,260.9 L582.0,257.4 L583.9,247.0 L585.1,218.0 L585.8,194.5 L586.8,247.0 L588.5,272.9 L589.4,291.0 L589.9,299.5 L590.4,301.8 L590.9,299.5 L591.5,291.0 L592.3,272.9 L593.9,247.0 L594.7,218.0 L595.3,194.5 L596.1,218.0 L597.5,247.0 L599.0,256.6 L600.1,260.1 L601.9,260.1 L603.0,256.6 L604.8,247.0 L606.0,218.0 L606.7,194.5 L607.7,247.0 L609.4,272.9 L610.2,291.0 L610.8,299.5 L611.3,301.8 L611.8,299.5 L612.4,291.0 L613.2,272.9 L614.8,247.0 L615.6,218.0 L616.2,194.5 L617.0,218.0 L618.4,247.0 L620.0,257.4 L621.1,260.9 L622.9,260.9 L624.0,257.4 L625.8,247.0 L627.0,218.0 L627.7,194.5 L628.7,247.0 L630.4,272.9 L631.2,291.0 L631.8,299.5 L632.3,301.8 L632.8,299.5 L633.4,291.0 L634.2,272.9 L635.8,247.0 L636.6,218.0 L637.2,194.5 L638.0,218.0 L639.4,247.0 L640.9,259.9 L642.0,263.4 L643.8,263.4 L644.9,259.9 L646.6,247.0 L647.8,218.0 L648.5,194.5 L649.5,247.0 L651.2,272.9 L652.1,291.0 L652.6,299.5 L653.1,301.8 L653.6,299.5 L654.2,291.0 L655.0,272.9 L656.6,247.0 L657.4,218.0 L658.0,194.5 L658.8,218.0 L660.2,247.0 L661.7,257.4 L662.8,260.9 L664.6,260.9 L665.7,257.4 L667.5,247.0 L668.7,218.0 L669.4,194.5 L670.4,247.0 L672.1,272.9 L673.0,291.0 L673.5,299.5 L674.0,301.8 L674.6,298.0 L675.6,285.0 L676.5,275.6"/>
<line x1="500.6" y1="189.3" x2="684.3" y2="189.3" stroke="#b0b0b0" stroke-width="1"/>
<line x1="684.3" y1="189.3" x2="684.3" y2="307.2" stroke="#d4d4d4" stroke-width="1"/>
<line x1="500.6" y1="307.2" x2="684.3" y2="307.2" stroke="#909090" stroke-width="1"/>
<line x1="500.6" y1="189.3" x2="500.6" y2="307.2" stroke="#6e6e6e" stroke-width="1"/>
<line x1="509.4" y1="307.2" x2="509.4" y2="308.6" stroke="#8a8a8a" stroke-width="0.6"/>
<line x1="561.4" y1="307.2" x2="561.4" y2="308.6" stroke="#8a8a8a" stroke-width="0.6"/>
<line x1="613.5" y1="307.2" x2="613.5" y2="308.6" stroke="#8a8a8a" stroke-width="0.6"/>
<line x1="665.5" y1="307.2" x2="665.5" y2="308.6" stroke="#8a8a8a" stroke-width="0.6"/>
<line x1="499.2" y1="307.0" x2="500.6" y2="307.0" stroke="#8a8a8a" stroke-width="0.6"/>
<line x1="499.2" y1="272.8" x2="500.6" y2="272.8" stroke="#8a8a8a" stroke-width="0.6"/>
<line x1="499.2" y1="238.6" x2="500.6" y2="238.6" stroke="#8a8a8a" stroke-width="0.6"/>
<line x1="499.2" y1="204.4" x2="500.6" y2="204.4" stroke="#8a8a8a" stroke-width="0.6"/>
<text class="tk" transform="translate(508.9,319.1) scale(0.924,1)" font-size="13.5" text-anchor="middle">0.0</text>
<text class="tk" transform="translate(560.9,319.1) scale(0.924,1)" font-size="13.5" text-anchor="middle">2.5</text>
<text class="tk" transform="translate(613.0,319.1) scale(0.924,1)" font-size="13.5" text-anchor="middle">5.0</text>
<text class="tk" transform="translate(665.0,319.1) scale(0.924,1)" font-size="13.5" text-anchor="middle">7.5</text>
<text class="tk" transform="translate(498.0,311.9) scale(0.924,1)" font-size="13.5" text-anchor="end">1.5</text>
<text class="tk" transform="translate(498.0,277.7) scale(0.924,1)" font-size="13.5" text-anchor="end">2.0</text>
<text class="tk" transform="translate(498.0,243.4) scale(0.924,1)" font-size="13.5" text-anchor="end">2.5</text>
<text class="tk" transform="translate(498.0,209.2) scale(0.924,1)" font-size="13.5" text-anchor="end">3.0</text>
<text class="lab" transform="translate(592.1,332.7) scale(0.927,1)" font-size="14" text-anchor="middle">Times(s)</text>
<text class="lab" transform="translate(478.2,248.7) rotate(-90) scale(0.979,1)" font-size="14" text-anchor="middle"><tspan font-style="italic">θ</tspan><tspan font-size="9.8" dy="2.8">6</tspan><tspan dy="-2.8">(</tspan><tspan font-style="italic">rad</tspan>)</text>
<text class="cap" x="585.8" y="351.3" font-size="12.5" text-anchor="middle">(f)</text>
</g>
<g id="legend">
<line x1="239.6" y1="374.6" x2="277.2" y2="374.6" stroke="#ff2a2a" stroke-width="1.3" stroke-dasharray="6.4 3.9"/>
<text class="leg" transform="translate(282.8,378.7) scale(1.0,1)" font-size="13.4">SPEL</text>
<line x1="322.6" y1="374.3" x2="358.6" y2="374.3" stroke="#111" stroke-width="1.2"/>
<text class="leg" transform="translate(362.6,378.7) scale(1.005,1)" font-size="13.5">Ground Truth</text>
</g>
</svg></body></html>
